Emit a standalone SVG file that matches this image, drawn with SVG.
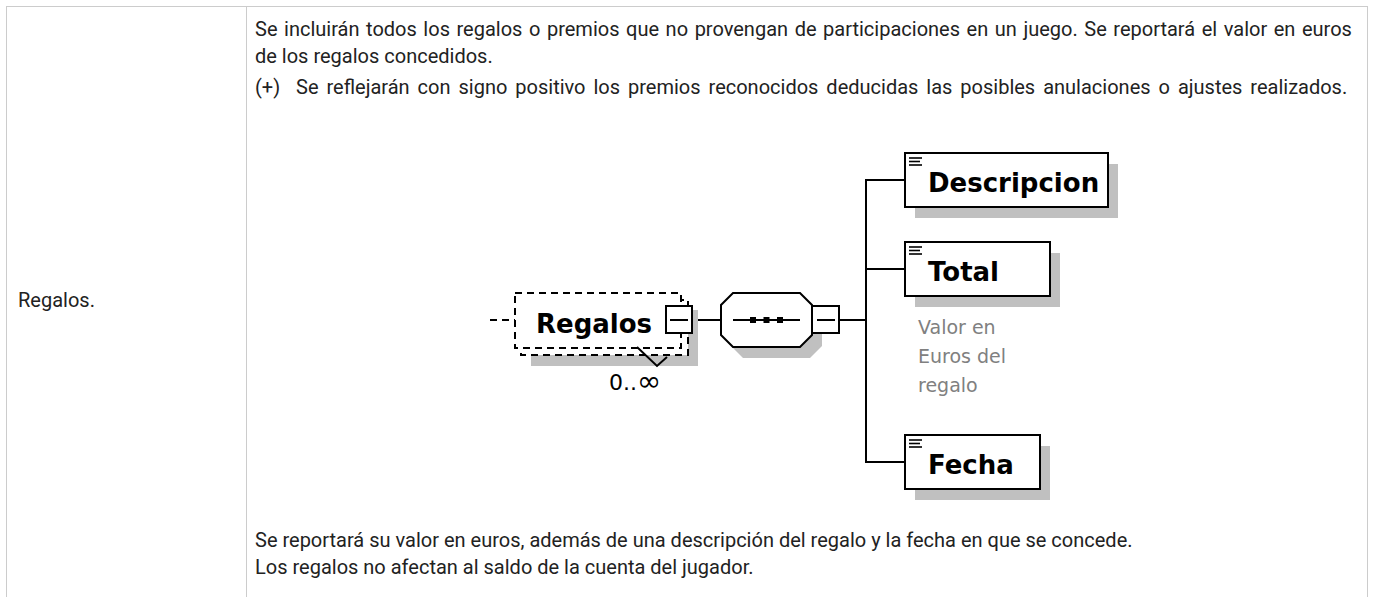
<svg xmlns="http://www.w3.org/2000/svg" width="1373" height="597" viewBox="0 0 1373 597">
<style>
.grid{stroke:#cccccc;stroke-width:1;fill:none}
.body{font-family:Roboto,"Liberation Sans",sans-serif;font-size:20px;fill:#222}
.shadow{fill:#c0c0c0;stroke:none}
.box{fill:#fff;stroke:#000;stroke-width:2}
.dash{fill:#fff;stroke:#000;stroke-width:2;stroke-dasharray:7 5}
.ln{stroke:#000;stroke-width:2;fill:none}
.name{font-family:"DejaVu Sans",sans-serif;font-weight:bold;font-size:26px;fill:#000}
.note{font-family:"DejaVu Sans",sans-serif;font-size:19px;fill:#808080}
.icon{stroke:#000;stroke-width:1.6}
</style>
<g id="table">
<line class="grid" x1="6" y1="6.5" x2="1368" y2="6.5"/>
<line class="grid" x1="6.5" y1="6" x2="6.5" y2="597"/>
<line class="grid" x1="246.5" y1="6" x2="246.5" y2="597"/>
<line class="grid" x1="1367.5" y1="6" x2="1367.5" y2="597"/>
</g>
<g id="texts">
<text class="body" x="18" y="307">Regalos.</text>
<text class="body" x="255" y="36" word-spacing="1.6">Se incluirán todos los regalos o premios que no provengan de participaciones en un juego. Se reportará el valor en euros</text>
<text class="body" x="255" y="63">de los regalos concedidos.</text>
<text class="body" x="255" y="94" xml:space="preserve" word-spacing="3">(+)  Se reflejarán con signo positivo los premios reconocidos deducidas las posibles anulaciones o ajustes realizados.</text>
<text class="body" x="255" y="547">Se reportará su valor en euros, además de una descripción del regalo y la fecha en que se concede.</text>
<text class="body" x="255" y="574">Los regalos no afectan al saldo de la cuenta del jugador.</text>
</g>
<g id="connectors">
<line class="ln" x1="490" y1="320" x2="515" y2="320" stroke-dasharray="7 5"/>
<line class="ln" x1="692" y1="320" x2="721" y2="320"/>
<line class="ln" x1="839" y1="320" x2="866" y2="320"/>
<polyline class="ln" points="905,180 866,180 866,462 905,462"/>
<line class="ln" x1="866" y1="269" x2="905" y2="269"/>
</g>
<g id="node-regalos">
<rect class="shadow" x="531" y="310" width="167" height="56"/>
<rect class="dash" x="521" y="300" width="167" height="55"/>
<rect class="dash" x="515" y="293" width="166" height="55"/>
<text class="name" x="536" y="333">Regalos</text>
<polyline class="ln" points="637,347 657,366 667,357" stroke-width="1.6"/>
<rect class="box" x="666" y="306" width="26" height="27"/>
<line class="ln" x1="670" y1="320" x2="688" y2="320"/>
<text x="609" y="390" font-family="DejaVu Sans,sans-serif" font-size="22" fill="#000">0..<tspan font-size="29" dy="1">∞</tspan></text>
</g>
<g id="node-sequence">
<polygon class="shadow" points="743,304 810,304 822,316 822,346 810,358 743,358 731,346 731,316"/>
<polygon class="box" points="733,293 800,293 812,305 812,335 800,347 733,347 721,335 721,305"/>
<line class="ln" x1="733" y1="320" x2="800" y2="320"/>
<rect x="750" y="317" width="6" height="6" fill="#000"/>
<rect x="763.5" y="317" width="6" height="6" fill="#000"/>
<rect x="777" y="317" width="6" height="6" fill="#000"/>
<rect class="box" x="812" y="306" width="27" height="27"/>
<line class="ln" x1="817" y1="320" x2="835" y2="320"/>
</g>
<g id="node-descripcion">
<rect class="shadow" x="915" y="164" width="203" height="54"/>
<rect class="box" x="905" y="153" width="203" height="54"/>
<line class="icon" x1="909" y1="158" x2="922" y2="158"/>
<line class="icon" x1="909" y1="161.5" x2="920" y2="161.5"/>
<line class="icon" x1="909" y1="165" x2="922" y2="165"/>
<text class="name" x="928" y="192">Descripcion</text>
</g>
<g id="node-total">
<rect class="shadow" x="915" y="253" width="145" height="54"/>
<rect class="box" x="905" y="242" width="145" height="54"/>
<line class="icon" x1="909" y1="247" x2="922" y2="247"/>
<line class="icon" x1="909" y1="250.5" x2="920" y2="250.5"/>
<line class="icon" x1="909" y1="254" x2="922" y2="254"/>
<text class="name" x="928" y="281">Total</text>
<text class="note" x="918" y="334">Valor en</text>
<text class="note" x="918" y="363">Euros del</text>
<text class="note" x="918" y="392">regalo</text>
</g>
<g id="node-fecha">
<rect class="shadow" x="915" y="446" width="135" height="54"/>
<rect class="box" x="905" y="435" width="135" height="54"/>
<line class="icon" x1="909" y1="440" x2="922" y2="440"/>
<line class="icon" x1="909" y1="443.5" x2="920" y2="443.5"/>
<line class="icon" x1="909" y1="447" x2="922" y2="447"/>
<text class="name" x="928" y="474">Fecha</text>
</g>
</svg>
